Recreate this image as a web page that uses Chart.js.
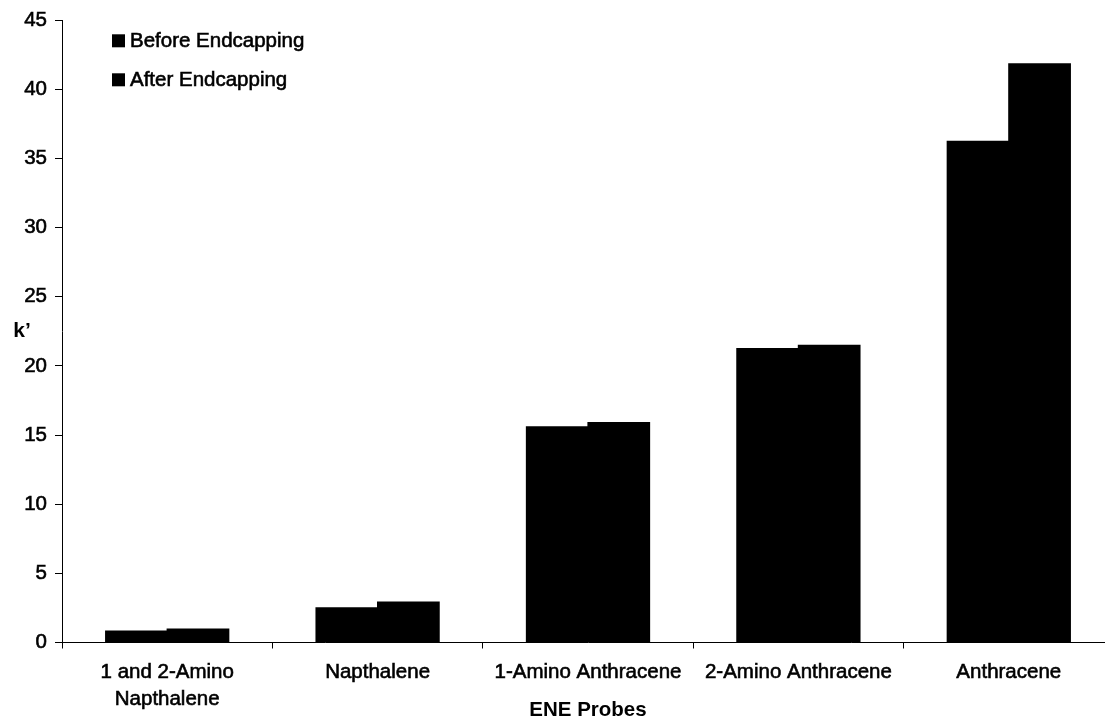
<!DOCTYPE html>
<html>
<head>
<meta charset="utf-8">
<title>k' of ENE probes before and after endcapping</title>
<script src="https://cdn.jsdelivr.net/npm/chart.js@4"></script>
<style>
  html, body { margin: 0; padding: 0; background: #ffffff; overflow: hidden; }
  canvas { display: block; }
</style>
</head>
<body>
<canvas id="chart" width="1115" height="719"></canvas>
<script>
// Probe categories (multi-line where the label wraps)
const categories = [
  ['1 and 2-Amino', 'Napthalene'],
  'Napthalene',
  '1-Amino Anthracene',
  '2-Amino Anthracene',
  'Anthracene'
];

// Capacity factor k' for each probe
const beforeEndcapping = [0.83, 2.5, 15.6, 21.25, 36.25];
const afterEndcapping  = [0.97, 2.93, 15.9, 21.5, 41.85];

// Value axis range
const yMin = 0;
const yMax = 45;
const yStep = 5;

const seriesNames = ['Before Endcapping', 'After Endcapping'];
const FONT = '"Liberation Sans", Arial, Helvetica, sans-serif';
const TEXT_SIZE = 20.5;
const TEXT_STROKE = 0.6;

// Legend drawn inside the plot area, top-left
const insideLegend = {
  id: 'insideLegend',
  afterDraw(chart) {
    const { ctx, chartArea } = chart;
    ctx.save();
    ctx.font = TEXT_SIZE + 'px ' + FONT;
    ctx.textBaseline = 'middle';
    ctx.textAlign = 'left';
    ctx.lineWidth = TEXT_STROKE;
    ctx.strokeStyle = '#000000';
    chart.data.datasets.forEach((ds, i) => {
      const cy = chartArea.top + 20.5 + i * 39;
      const bx = chartArea.left + 50;
      ctx.fillStyle = ds.backgroundColor;
      ctx.fillRect(bx, cy - 6.5, 13, 13);
      ctx.fillStyle = '#000000';
      ctx.fillText(ds.label, bx + 18, cy + 1);
      ctx.strokeText(ds.label, bx + 18, cy + 1);
    });
    ctx.restore();
  }
};

// Horizontal value-axis title on the left
const sideTitle = {
  id: 'sideTitle',
  afterDraw(chart) {
    const { ctx, chartArea } = chart;
    ctx.save();
    ctx.font = 'bold 21px ' + FONT;
    ctx.fillStyle = '#000000';
    ctx.textAlign = 'center';
    ctx.textBaseline = 'middle';
    ctx.fillText('k\u2019', 22, (chartArea.top + chartArea.bottom) / 2);
    ctx.restore();
  }
};

new Chart(document.getElementById('chart'), {
  type: 'bar',
  data: {
    labels: categories,
    datasets: [
      {
        label: seriesNames[0],
        data: beforeEndcapping,
        backgroundColor: '#000000',
        borderWidth: 0,
        inflateAmount: 0.6
      },
      {
        label: seriesNames[1],
        data: afterEndcapping,
        backgroundColor: '#000000',
        borderWidth: 0,
        inflateAmount: 0.6
      }
    ]
  },
  options: {
    responsive: false,
    devicePixelRatio: 1,
    animation: false,
    layout: { padding: { top: 19.5, right: 1, bottom: 0, left: 0 } },
    datasets: {
      bar: { categoryPercentage: 0.585, barPercentage: 1.0 }
    },
    plugins: {
      legend: { display: false },
      tooltip: { enabled: false }
    },
    scales: {
      x: {
        offset: true,
        grid: {
          offset: true,
          drawOnChartArea: false,
          drawTicks: true,
          tickLength: 6,
          color: '#000000',
          lineWidth: 1
        },
        border: { color: '#000000', width: 1 },
        ticks: {
          color: '#000000',
          font: { family: FONT, size: TEXT_SIZE, lineHeight: 1.28 },
          textStrokeColor: '#000000',
          textStrokeWidth: TEXT_STROKE,
          padding: 11,
          maxRotation: 0,
          autoSkip: false
        },
        title: {
          display: true,
          text: 'ENE Probes',
          color: '#000000',
          font: { family: FONT, size: TEXT_SIZE, weight: 'bold', lineHeight: 0.8 },
          padding: { top: 0, bottom: 0 }
        },
        afterFit(scale) { scale.height = 76.5; }
      },
      y: {
        min: yMin,
        max: yMax,
        grid: {
          drawOnChartArea: false,
          drawTicks: true,
          tickLength: 7,
          color: '#000000',
          lineWidth: 1
        },
        border: { color: '#000000', width: 1 },
        ticks: {
          stepSize: yStep,
          color: '#000000',
          font: { family: FONT, size: TEXT_SIZE },
          textStrokeColor: '#000000',
          textStrokeWidth: TEXT_STROKE,
          padding: 8
        },
        afterFit(scale) { scale.width = 62; }
      }
    }
  },
  plugins: [insideLegend, sideTitle]
});
</script>
</body>
</html>
